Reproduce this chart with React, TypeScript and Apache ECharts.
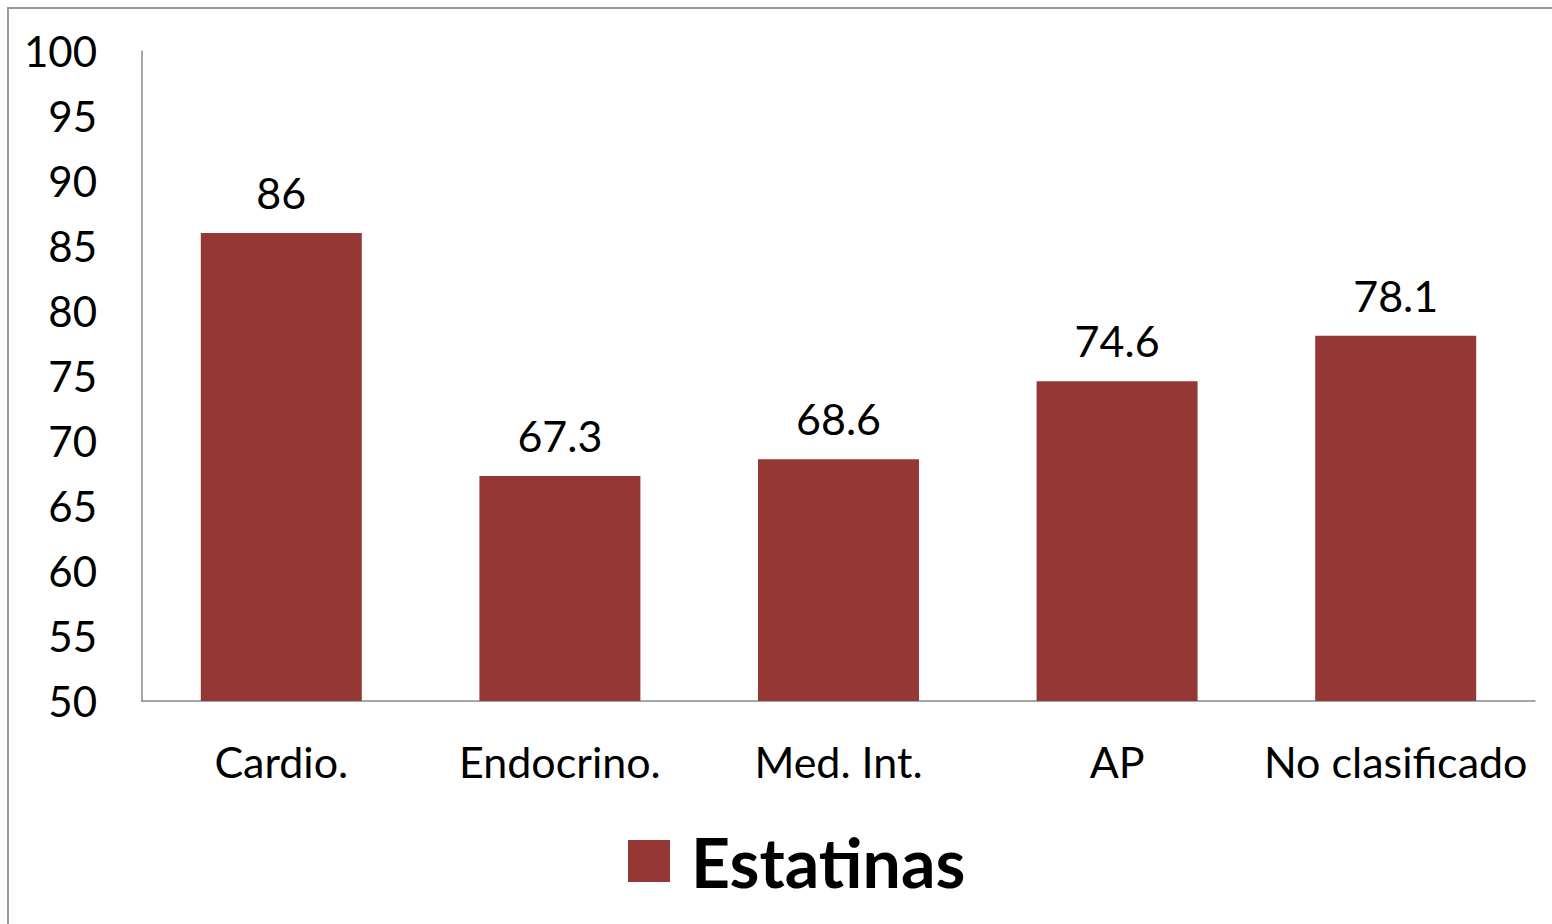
import React, { useEffect, useRef } from "react";
import * as echarts from "echarts";

const categories = ["Cardio.", "Endocrino.", "Med. Int.", "AP", "No clasificado"];
const estatinas = [86, 67.3, 68.6, 74.6, 78.1];
const seriesName = "Estatinas";
const FONT = "Lato, 'Open Sans', sans-serif";

export default function App() {
  const ref = useRef<HTMLDivElement>(null);
  useEffect(() => {
    if (!ref.current) return;
    const chart = echarts.init(ref.current, null, { renderer: "svg" });
    chart.setOption({
      animation: false,
      backgroundColor: "#fff",
      textStyle: { fontFamily: FONT },
      graphic: [
        { type: "line", shape: { x1: 7, y1: 8, x2: 1552, y2: 8 }, style: { stroke: "#9a9a9a", lineWidth: 2 } },
        { type: "line", shape: { x1: 8, y1: 7, x2: 8, y2: 924 }, style: { stroke: "#9a9a9a", lineWidth: 2 } },
      ],
      grid: { left: 142, right: 17, top: 51, bottom: 223 },
      xAxis: {
        type: "category",
        data: categories,
        axisLine: { show: true, lineStyle: { color: "#898989", width: 1.5 } },
        axisTick: { show: false },
        axisLabel: { color: "#000", fontSize: 43, fontFamily: FONT, margin: 39, interval: 0 },
      },
      yAxis: {
        type: "value",
        min: 50,
        max: 100,
        interval: 5,
        axisLine: { show: true, lineStyle: { color: "#898989", width: 1.5 } },
        axisTick: { show: false },
        splitLine: { show: false },
        axisLabel: { color: "#000", fontSize: 42, fontFamily: FONT, margin: 45 },
      },
      legend: {
        data: [seriesName],
        left: 623,
        top: 822,
        icon: "rect",
        itemWidth: 42,
        itemHeight: 42,
        textStyle: { color: "#000", fontSize: 68, fontWeight: "bold", fontFamily: FONT, padding: [0, 0, 0, 16] },
      },
      series: [
        {
          name: seriesName,
          type: "bar",
          data: estatinas,
          barWidth: 161,
          itemStyle: { color: "#953735" },
          label: { show: true, position: "top", distance: 19, color: "#000", fontSize: 43, fontFamily: FONT },
        },
      ],
    });
    return () => chart.dispose();
  }, []);
  return <div ref={ref} style={{ position: "fixed", left: 0, top: 0, width: 1552, height: 924 }} />;
}
